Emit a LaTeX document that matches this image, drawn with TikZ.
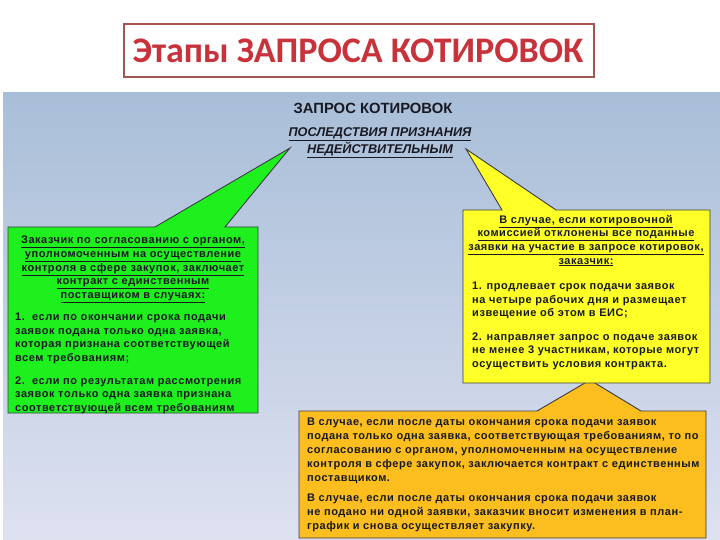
\documentclass[tikz,border=0pt]{standalone}
\usepackage{fontspec}
\setmainfont{Liberation Sans}
\newfontfamily\titlefont{Carlito}
\newfontfamily\boxfont[LetterSpace=5]{Liberation Sans}
\definecolor{panelTop}{RGB}{168,190,216}
\definecolor{panelMid}{RGB}{200,208,228}
\definecolor{panelBot}{RGB}{222,225,240}
\definecolor{gfill}{RGB}{30,240,30}
\definecolor{yfill}{RGB}{255,255,40}
\definecolor{ofill}{RGB}{251,190,30}
\definecolor{titlered}{RGB}{200,50,58}
\definecolor{titlebox}{RGB}{160,85,80}
\definecolor{ink}{RGB}{25,25,35}
\tikzset{
  callout/.style={draw=ink!85, line width=0.9pt, line join=miter},
  boxtext/.style={inner sep=0pt, text=ink, font={\boxfont\fontsize{11}{13.6}\selectfont\bfseries}},
}
\begin{document}
\begin{tikzpicture}[x=1pt,y=-1pt]
\useasboundingbox (0,0) rectangle (720,540);
\fill[white] (0,0) rectangle (720,540);
\shade[top color=panelTop, middle color=panelMid, bottom color=panelBot] (3,93) rectangle (720,540);

% title
\node[draw=titlebox, line width=1.3pt, minimum width=470pt, minimum height=53pt, inner sep=0pt] (titlebox) at (359,50.5) {};
\node[text=titlered, font={\titlefont\bfseries\fontsize{36}{38}\selectfont}] (title) at (358,51) {Этапы ЗАПРОСА КОТИРОВОК};

% headings
\node[text=ink, font={\fontsize{14.8}{17}\selectfont\bfseries}] (hdr) at (373,108) {ЗАПРОС КОТИРОВОК};
\node[text=ink, align=center, inner sep=0pt, font={\fontsize{12.7}{14}\selectfont\bfseries\itshape}] (sub) at (380,143)
  {\underline{ПОСЛЕДСТВИЯ ПРИЗНАНИЯ}\\\underline{НЕДЕЙСТВИТЕЛЬНЫМ}};

% tips
\coordinate (gtip) at (290,148);
\coordinate (ytip) at (466,149);
\coordinate (otip) at (590,380);

% callout shapes
\draw[callout, fill=gfill] (8,227) -- (155,227) -- (gtip) -- (225,227) -- (258,227) -- (258,413) -- (8,413) -- cycle;
\draw[callout, fill=ofill] (299,411) -- (537,411) -- (otip) -- (641,411) -- (706,411) -- (706,538) -- (299,538) -- cycle;
\draw[callout, fill=yfill] (463,210) -- (502,210) -- (ytip) -- (556,210) -- (710,210) -- (710,383) -- (463,383) -- cycle;

% green text
\node[boxtext, align=center, anchor=north] (g1) at (133,236)
  {\underline{Заказчик по согласованию с органом,}\\
   \underline{уполномоченным на осуществление}\\
   \underline{контроля в сфере закупок, заключает}\\
   \underline{контракт с единственным}\\
   \underline{поставщиком в случаях:}};
\node[boxtext, align=left, anchor=north west] (g2) at (15,313)
  {1.\ \ если по окончании срока подачи\\
   заявок подана только одна заявка,\\
   которая признана соответствующей\\
   всем требованиям;\\[9pt]
   2.\ \ если по результатам рассмотрения\\
   заявок только одна заявка признана\\
   соответствующей всем требованиям};

% yellow text
\node[boxtext, align=center, anchor=north] (y1) at (586,215)
  {\underline{В случае, если котировочной}\\
   \underline{комиссией отклонены все поданные}\\
   \underline{заявки на участие в запросе котировок,}\\
   \underline{заказчик:}};
\node[boxtext, align=left, anchor=north west] (y2) at (472,282)
  {1. продлевает срок подачи заявок\\
   на четыре рабочих дня и размещает\\
   извещение об этом в ЕИС;\\[9.5pt]
   2. направляет запрос о подаче заявок\\
   не менее 3 участникам, которые могут\\
   осуществить условия контракта.};

% orange text
\node[boxtext, align=left, anchor=north west, font={\boxfont\fontsize{11}{14}\selectfont\bfseries}] (o1) at (307,418)
  {В случае, если после даты окончания срока подачи заявок\\
   подана только одна заявка, соответствующая требованиям, то по\\
   согласованию с органом, уполномоченным на осуществление\\
   контроля в сфере закупок, заключается контракт с единственным\\
   поставщиком.\\[6pt]
   В случае, если после даты окончания срока подачи заявок\\
   не подано ни одной заявки, заказчик вносит изменения в план-\\
   график и снова осуществляет закупку.};
\end{tikzpicture}
\end{document}
